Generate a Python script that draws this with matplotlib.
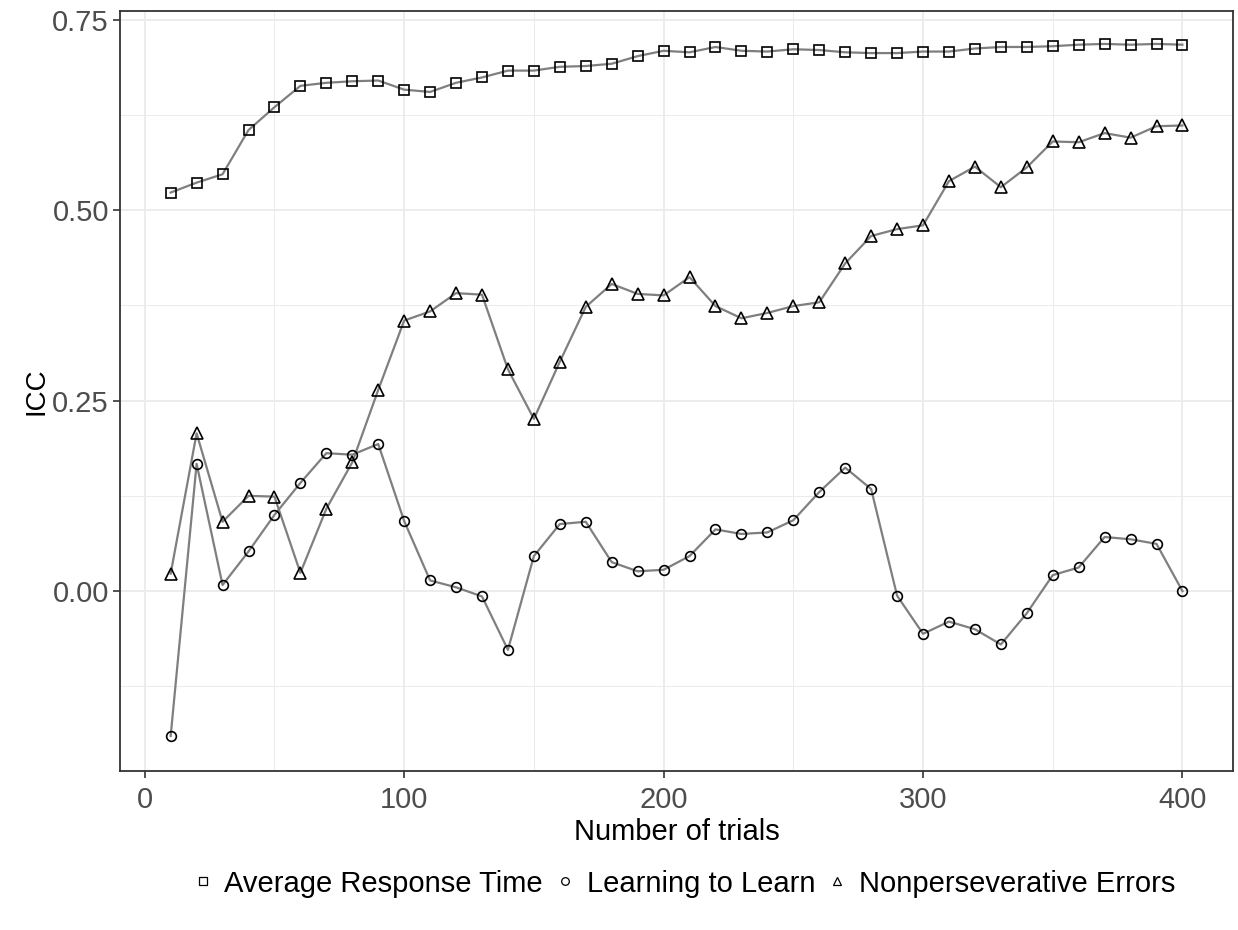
import numpy as np
import matplotlib
matplotlib.use('Agg')
import matplotlib.pyplot as plt
from matplotlib.lines import Line2D

plt.rcParams['font.family'] = ['Liberation Sans', 'DejaVu Sans']

# Trials and ICC values for each measure
trials = list(range(10, 401, 10))

avg_rt = [0.523, 0.536, 0.547, 0.605, 0.635, 0.663, 0.667, 0.669, 0.670, 0.658,
          0.655, 0.667, 0.674, 0.683, 0.683, 0.688, 0.689, 0.692, 0.702, 0.709,
          0.707, 0.714, 0.709, 0.708, 0.711, 0.710, 0.707, 0.706, 0.706, 0.708,
          0.708, 0.712, 0.714, 0.714, 0.715, 0.717, 0.718, 0.717, 0.718, 0.717]

learn = [-0.190, 0.167, 0.008, 0.052, 0.100, 0.142, 0.181, 0.179, 0.193, 0.092,
         0.014, 0.005, -0.007, -0.077, 0.046, 0.088, 0.091, 0.038, 0.026, 0.028,
         0.046, 0.081, 0.075, 0.077, 0.093, 0.130, 0.162, 0.134, -0.006, -0.056,
         -0.040, -0.050, -0.070, -0.029, 0.021, 0.031, 0.071, 0.068, 0.062, 0.000]

nonpers = [0.023, 0.207, 0.091, 0.125, 0.124, 0.024, 0.108, 0.169, 0.264, 0.355,
           0.367, 0.391, 0.389, 0.291, 0.226, 0.301, 0.373, 0.403, 0.390, 0.388,
           0.412, 0.374, 0.358, 0.365, 0.374, 0.379, 0.430, 0.466, 0.475, 0.480,
           0.538, 0.557, 0.530, 0.556, 0.590, 0.589, 0.601, 0.595, 0.610, 0.611]

labels = ['Average Response Time', 'Learning to Learn', 'Nonperseverative Errors']
markers = ['s', 'o', '^']
msizes = [7, 7, 9]

fig = plt.figure(figsize=(12.38, 9.30), dpi=100)
ax = fig.add_axes([0.097, 0.171, 0.899, 0.817])

for vals, m, ms in zip([avg_rt, learn, nonpers], markers, msizes):
    ax.plot(trials, vals, color='#7f7f7f', lw=1.6, zorder=2)
    ax.plot(trials, vals, linestyle='none', marker=m, ms=ms, mfc='none',
            mec='black', mew=1.2, zorder=3)

ax.set_xlim(-9.5, 419.5)
ax.set_ylim(-0.236, 0.761)
ax.set_xticks([0, 100, 200, 300, 400])
ax.set_yticks([0.0, 0.25, 0.5, 0.75])
ax.set_yticklabels(['0.00', '0.25', '0.50', '0.75'])
ax.set_xticks([50, 150, 250, 350], minor=True)
ax.set_yticks([-0.125, 0.125, 0.375, 0.625], minor=True)

ax.grid(which='major', color='#ebebeb', lw=1.3, zorder=0)
ax.grid(which='minor', color='#ebebeb', lw=0.7, zorder=0)
ax.set_axisbelow(True)

for s in ax.spines.values():
    s.set_color('#333333')
    s.set_linewidth(1.3)

ax.tick_params(which='major', direction='out', length=5, width=1.2, color='#333333',
               labelsize=21, labelcolor='#4d4d4d', pad=3)
ax.tick_params(axis='x', which='major', pad=6)
ax.tick_params(which='minor', length=0)

ax.set_xlabel('Number of trials', fontsize=21, labelpad=3)
ax.set_ylabel('ICC', fontsize=20, labelpad=2)

handles = [Line2D([], [], linestyle='none', marker=m, ms=5.5, mfc='none', mec='black', mew=0.9)
           for m in markers]
fig.legend(handles, labels, loc='center', bbox_to_anchor=(0.553, 0.050), ncol=3,
           frameon=False, fontsize=21, handlelength=0.6, handletextpad=0.45,
           columnspacing=0.45)

fig.savefig('out.png', dpi=100)
